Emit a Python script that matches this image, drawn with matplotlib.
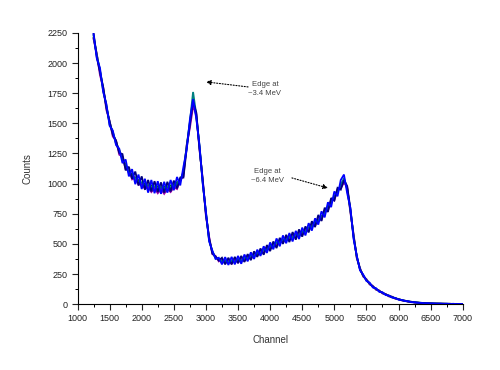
import numpy as np
import matplotlib
matplotlib.use("Agg")
import matplotlib.pyplot as plt
from matplotlib.ticker import MultipleLocator

plt.rcParams['font.family'] = ['Liberation Sans', 'DejaVu Sans']

channels = np.arange(1250, 7001, 50)

counts_green = [
    2210, 2070, 1935, 1770, 1650, 1490, 1430, 1330, 1280, 1200,
    1160, 1090, 1080, 1030, 1030, 995, 1000, 970, 985, 962,
    978, 958, 975, 962, 985, 978, 1010, 1022, 1100, 1305,
    1505, 1690, 1555, 1305, 1010, 760, 530, 438, 382, 378,
    352, 362, 348, 362, 350, 370, 360, 382, 378, 402,
    398, 425, 422, 452, 452, 482, 482, 512, 510, 537,
    532, 557, 552, 577, 572, 602, 602, 637, 642, 679,
    689, 732, 752, 807, 837, 897, 927, 992, 1030, 962,
    775, 568, 385, 294, 232, 203, 167, 148, 122, 110,
    91, 82, 66, 60, 46, 42, 32, 28, 21, 19,
    14, 13, 9, 9, 6, 7, 4, 5, 3, 4,
    2, 3, 1, 2, 1, 0]

counts_purple = [
    2200, 2080, 1900, 1800, 1610, 1520, 1390, 1360, 1240, 1225,
    1120, 1115, 1035, 1050, 990, 1000, 955, 975, 930, 960,
    920, 955, 915, 955, 930, 970, 955, 1030, 1060, 1320,
    1460, 1640, 1580, 1280, 1040, 730, 560, 415, 400, 355,
    372, 338, 365, 335, 368, 345, 380, 358, 398, 378,
    420, 400, 445, 428, 475, 458, 505, 488, 532, 512,
    555, 532, 575, 550, 598, 575, 628, 610, 668, 648,
    718, 700, 782, 775, 865, 860, 955, 960, 1010, 970,
    760, 580, 380, 300, 228, 208, 163, 152, 119, 114,
    88, 85, 64, 62, 45, 43, 31, 29, 20, 20,
    13, 13, 9, 9, 6, 7, 4, 5, 3, 4,
    2, 3, 1, 2, 0, 1]

counts_teal = [
    2230, 2065, 1940, 1790, 1635, 1510, 1415, 1350, 1265, 1215,
    1145, 1105, 1060, 1048, 1010, 1012, 980, 988, 965, 978,
    958, 972, 955, 978, 965, 992, 992, 1040, 1085, 1310,
    1510, 1760, 1570, 1310, 1015, 755, 535, 432, 388, 372,
    358, 357, 353, 358, 356, 365, 366, 378, 383, 398,
    403, 421, 428, 448, 458, 478, 488, 508, 516, 533,
    538, 553, 558, 573, 578, 598, 608, 633, 648, 675,
    695, 728, 758, 803, 843, 893, 933, 988, 1045, 955,
    782, 562, 392, 291, 236, 201, 171, 146, 126, 109,
    94, 81, 69, 59, 49, 41, 34, 28, 23, 19,
    16, 13, 11, 9, 8, 6, 5, 5, 4, 3,
    3, 2, 2, 2, 1, 1]

counts_navy = [
    2250, 2050, 1925, 1800, 1630, 1515, 1405, 1355, 1255, 1245,
    1110, 1140, 1040, 1100, 985, 1060, 950, 1030, 935, 1020,
    930, 1010, 925, 1015, 935, 1025, 960, 1050, 1050, 1290,
    1490, 1680, 1590, 1290, 1030, 745, 550, 420, 395, 362,
    385, 330, 385, 330, 392, 340, 400, 350, 415, 365,
    438, 392, 462, 410, 490, 440, 520, 465, 550, 500,
    575, 515, 598, 535, 620, 560, 645, 595, 688, 640,
    740, 690, 800, 765, 880, 860, 965, 950, 1030, 980,
    790, 552, 398, 286, 240, 197, 173, 143, 128, 106,
    96, 79, 70, 57, 50, 39, 34, 26, 23, 17,
    15, 12, 10, 8, 7, 6, 5, 4, 4, 3,
    3, 2, 2, 1, 1, 1]

counts_blue = [
    2240, 2040, 1960, 1760, 1660, 1480, 1440, 1320, 1290, 1170,
    1200, 1060, 1120, 995, 1075, 955, 1040, 925, 1030, 920,
    1020, 915, 1015, 925, 1030, 945, 1055, 985, 1140, 1280,
    1530, 1700, 1540, 1320, 1000, 770, 520, 445, 375, 385,
    330, 390, 325, 392, 330, 400, 335, 412, 355, 430,
    375, 452, 400, 480, 425, 512, 455, 545, 480, 570,
    505, 590, 520, 608, 540, 635, 570, 672, 610, 712,
    660, 770, 720, 845, 805, 935, 895, 1030, 1075, 920,
    800, 540, 400, 280, 245, 192, 178, 138, 132, 102,
    98, 75, 72, 54, 51, 37, 35, 25, 24, 16,
    16, 11, 11, 7, 8, 5, 6, 3, 5, 2,
    4, 1, 3, 1, 2, 0]

series = [
    (counts_green, '#008000'),
    (counts_purple, '#9900aa'),
    (counts_teal, '#008080'),
    (counts_navy, '#000080'),
    (counts_blue, '#0000ff'),
]

x_ticks = [1000, 1500, 2000, 2500, 3000, 3500, 4000, 4500, 5000, 5500, 6000, 6500, 7000]
y_ticks = [0, 250, 500, 750, 1000, 1250, 1500, 1750, 2000, 2250]

fig = plt.figure(figsize=(5.0, 3.7), dpi=100)
ax = fig.add_axes([0.155, 0.178, 0.7705, 0.733])

for vals, col in series:
    ax.plot(channels, vals, color=col, lw=1.3, solid_joinstyle='miter')

ax.set_xlim(1000, 7000)
ax.set_ylim(0, 2250)
ax.set_xticks(x_ticks)
ax.set_yticks(y_ticks)
ax.xaxis.set_minor_locator(MultipleLocator(250))
ax.yaxis.set_minor_locator(MultipleLocator(125))
for s in ['top', 'right']:
    ax.spines[s].set_visible(False)
for s in ['left', 'bottom']:
    ax.spines[s].set_linewidth(0.8)
ax.tick_params(which='major', direction='out', length=4, width=0.8, labelsize=6.5, pad=3, colors='#222222')
ax.tick_params(which='minor', direction='out', length=2, width=0.7)
ax.set_xlabel('Channel', fontsize=7, color='#333333', labelpad=9)
ax.set_ylabel('Counts', fontsize=7, color='#333333', labelpad=11)

# annotations
ax.annotate('', xy=(3000, 1844), xytext=(3656, 1802),
            arrowprops=dict(arrowstyle='-|>', linestyle=(0, (1, 1.5)), color='k',
                            lw=0.8, mutation_scale=7, shrinkA=0, shrinkB=0))
ax.text(3920, 1786, 'Edge at\n~3.4 MeV', fontsize=5.5, color='#444444',
        ha='center', va='center', linespacing=1.3)
ax.annotate('', xy=(4901, 963), xytext=(4340, 1047),
            arrowprops=dict(arrowstyle='-|>', linestyle=(0, (1, 1.5)), color='k',
                            lw=0.8, mutation_scale=7, shrinkA=0, shrinkB=0))
ax.text(3953, 1063, 'Edge at\n~6.4 MeV', fontsize=5.5, color='#444444',
        ha='center', va='center', linespacing=1.3)

fig.savefig('out.png', dpi=100)
